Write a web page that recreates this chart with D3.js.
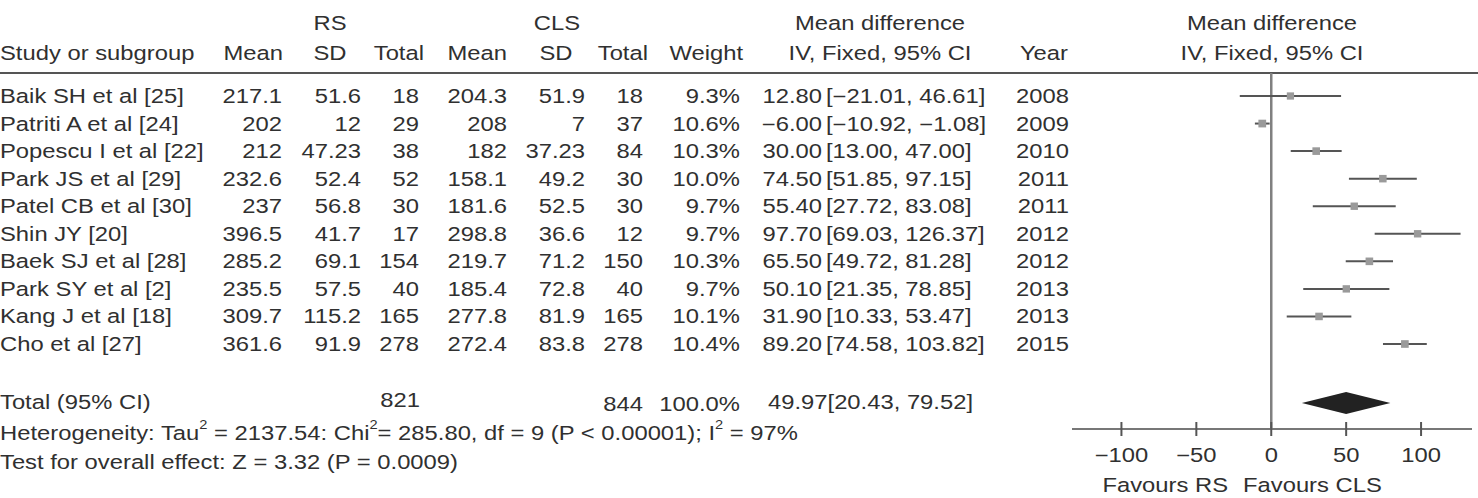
<!DOCTYPE html>
<html>
<head>
<meta charset="utf-8">
<title>Forest plot</title>
<script src="https://d3js.org/d3.v7.min.js"></script>
<style>
  body { margin: 0; background: #fff; }
  svg text { font-family: "Liberation Sans", Arial, sans-serif; font-size: 19.5px; fill: #303030; }
</style>
</head>
<body>
<div id="chart"></div>
<script>
// study data
var studies = ["Baik SH et al [25]", "Patriti A et al [24]", "Popescu I et al [22]", "Park JS et al [29]",
  "Patel CB et al [30]", "Shin JY [20]", "Baek SJ et al [28]", "Park SY et al [2]", "Kang J et al [18]", "Cho et al [27]"];
var rsMean = [217.1, 202, 212, 232.6, 237, 396.5, 285.2, 235.5, 309.7, 361.6];
var rsSD = [51.6, 12, 47.23, 52.4, 56.8, 41.7, 69.1, 57.5, 115.2, 91.9];
var rsTotal = [18, 29, 38, 52, 30, 17, 154, 40, 165, 278];
var clsMean = [204.3, 208, 182, 158.1, 181.6, 298.8, 219.7, 185.4, 277.8, 272.4];
var clsSD = [51.9, 7, 37.23, 49.2, 52.5, 36.6, 71.2, 72.8, 81.9, 83.8];
var clsTotal = [18, 37, 84, 30, 30, 12, 150, 40, 165, 278];
var weights = [9.3, 10.6, 10.3, 10.0, 9.7, 9.7, 10.3, 9.7, 10.1, 10.4];
var md = [12.80, -6.00, 30.00, 74.50, 55.40, 97.70, 65.50, 50.10, 31.90, 89.20];
var lower = [-21.01, -10.92, 13.00, 51.85, 27.72, 69.03, 49.72, 21.35, 10.33, 74.58];
var upper = [46.61, -1.08, 47.00, 97.15, 83.08, 126.37, 81.28, 78.85, 53.47, 103.82];
var years = [2008, 2009, 2010, 2011, 2011, 2012, 2012, 2013, 2013, 2015];

var pooled = [49.97, 20.43, 79.52];   // estimate, lower, upper
var totals = [821, 844];
var xTicks = [-100, -50, 0, 50, 100];

var width = 1478, height = 498;
var SX = 1.22; // the figure's text is stretched sideways
var LEFT = 0;

var svg = d3.select("#chart").append("svg")
  .attr("width", width)
  .attr("height", height);

function txt(x, y, s, anchor) {
  return svg.append("text")
    .attr("transform", "translate(" + x + "," + y + ") scale(" + SX + ",1)")
    .attr("text-anchor", anchor || "start")
    .text(s);
}
function minus(s) { return String(s).replace(/-/g, "\u2212"); }

// headers
txt(330, 30, "RS", "middle");
txt(557, 30, "CLS", "middle");
txt(880, 30, "Mean difference", "middle");
txt(1272, 30, "Mean difference", "middle");
txt(LEFT, 60, "Study or subgroup");
txt(283, 60, "Mean", "end");
txt(330, 60, "SD", "middle");
txt(424, 60, "Total", "end");
txt(507, 60, "Mean", "end");
txt(556, 60, "SD", "middle");
txt(648, 60, "Total", "end");
txt(743, 60, "Weight", "end");
txt(880, 60, "IV, Fixed, 95% CI", "middle");
txt(1068, 60, "Year", "end");
txt(1272, 60, "IV, Fixed, 95% CI", "middle");

svg.append("line")
  .attr("x1", 0).attr("x2", width)
  .attr("y1", 73).attr("y2", 73)
  .attr("stroke", "#555").attr("stroke-width", 2);

var y = d3.scalePoint().domain(studies).range([96, 344]);
var x = d3.scaleLinear().domain([-133, 134]).range([1072, 1472]);
var f2 = d3.format(".2f"), f1 = d3.format(".1f");

studies.forEach(function(s, i) {
  var b = y(s) + 7;
  txt(LEFT, b, s);
  txt(282, b, rsMean[i], "end");
  txt(361, b, rsSD[i], "end");
  txt(419, b, rsTotal[i], "end");
  txt(507, b, clsMean[i], "end");
  txt(585, b, clsSD[i], "end");
  txt(643, b, clsTotal[i], "end");
  txt(740, b, f1(weights[i]) + "%", "end");
  txt(822, b, minus(f2(md[i])), "end");
  txt(826, b, minus("[" + f2(lower[i]) + ", " + f2(upper[i]) + "]"));
  txt(1069, b, years[i], "end");
});

// totals and footer
txt(LEFT, 409, "Total (95% CI)");
txt(420, 407, totals[0], "end");
txt(643, 411, totals[1], "end");
txt(740, 411, "100.0%", "end");
txt(768, 409, f2(pooled[0]) + "[" + f2(pooled[1]) + ", " + f2(pooled[2]) + "]");

var het = txt(LEFT, 440, "Heterogeneity: Tau");
het.append("tspan").attr("dy", -11).style("font-size", "12px").text("2");
het.append("tspan").attr("dy", 11).text(" = 2137.54: Chi");
het.append("tspan").attr("dy", -11).style("font-size", "12px").text("2");
het.append("tspan").attr("dy", 11).text("= 285.80, df = 9 (P < 0.00001); I");
het.append("tspan").attr("dy", -11).style("font-size", "12px").text("2");
het.append("tspan").attr("dy", 11).text(" = 97%");

txt(LEFT, 469, "Test for overall effect: Z = 3.32 (P = 0.0009)");

// forest plot
var axisY = 429;
svg.append("line")
  .attr("x1", x(0)).attr("x2", x(0))
  .attr("y1", 73).attr("y2", axisY)
  .attr("stroke", "#808080").attr("stroke-width", 2.5);

var rows = svg.append("g");
studies.forEach(function(s, i) {
  rows.append("line")
    .attr("x1", x(lower[i])).attr("x2", x(upper[i]))
    .attr("y1", y(s)).attr("y2", y(s))
    .attr("stroke", "#555").attr("stroke-width", 2);
  var sz = 7.5 * Math.sqrt(weights[i] / 10);
  rows.append("rect")
    .attr("x", x(md[i]) - sz / 2).attr("y", y(s) - sz / 2)
    .attr("width", sz).attr("height", sz)
    .attr("fill", "#9a9a9a");
});

var dy0 = 403, dh = 11;
svg.append("path")
  .attr("d", "M" + x(pooled[1]) + "," + dy0 + "L" + x(pooled[0]) + "," + (dy0 - dh) +
    "L" + x(pooled[2]) + "," + dy0 + "L" + x(pooled[0]) + "," + (dy0 + dh) + "Z")
  .attr("fill", "#222");

// axis
svg.append("line")
  .attr("x1", x.range()[0]).attr("x2", x.range()[1])
  .attr("y1", axisY).attr("y2", axisY)
  .attr("stroke", "#777").attr("stroke-width", 2);

svg.selectAll(".tick")
  .data(xTicks)
  .enter().append("line")
  .attr("class", "tick")
  .attr("x1", d => x(d)).attr("x2", d => x(d))
  .attr("y1", axisY - 7).attr("y2", axisY + 7)
  .attr("stroke", "#555").attr("stroke-width", 2);

xTicks.forEach(function(d) {
  txt(x(d), 462, minus(d), "middle");
});

txt(1228, 492, "Favours RS", "end");
txt(1243, 492, "Favours CLS");
</script>
</body>
</html>
